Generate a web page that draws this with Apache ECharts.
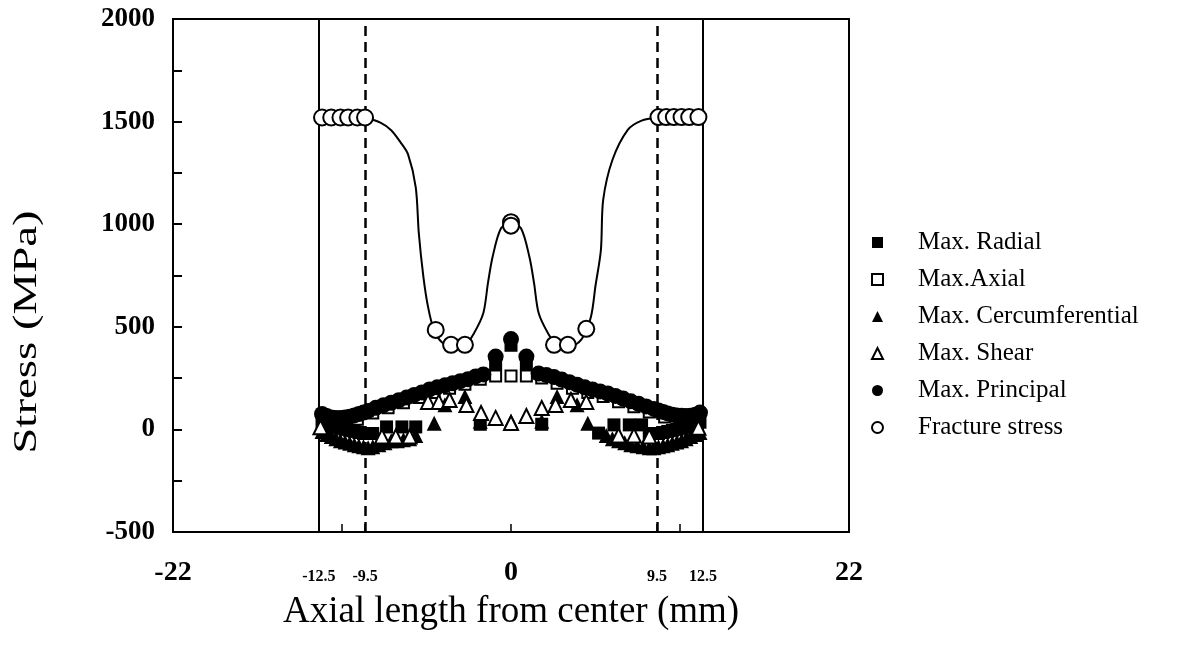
<!DOCTYPE html>
<html>
<head>
<meta charset="UTF-8">
<title>Stress vs axial length</title>
<script src="https://cdn.jsdelivr.net/npm/echarts@6/dist/echarts.min.js"></script>
</head>
<body style="margin:0;background:#fff">
<div id="main" style="width:1177px;height:651px"></div>
<script>
// Max. Principal (filled circles)
var principalX = [-12.3, -12.0, -11.7, -11.4, -11.1, -10.8, -10.5, -10.2, -9.9, -9.6, -9.3, -8.8, -8.3, -7.8, -7.3, -6.8, -6.3, -5.8, -5.3,
                  -4.8, -4.3, -3.8, -3.3, -2.8, -2.3, -1.8, -1.0, 0, 1.0, 1.8, 2.3, 2.8, 3.3, 3.8, 4.3, 4.8, 5.3, 5.8, 6.3, 6.8,
                  7.3, 7.8, 8.3, 8.8, 9.3, 9.6, 9.9, 10.2, 10.5, 10.8, 11.1, 11.4, 11.7, 12.0, 12.3];
var principalY = [75, 65, 58, 55, 55, 58, 62, 68, 75, 82, 90, 105, 118, 130, 142, 155, 168, 180, 195,
                  205, 215, 225, 235, 245, 258, 268, 355, 440, 355, 272, 265, 255, 243, 230, 218, 205, 195, 185, 175, 163,
                  150, 137, 125, 112, 100, 92, 85, 78, 72, 68, 66, 65, 66, 72, 82];

// Max.Axial (open squares)
var axialX = [-12.0, -11.0, -10.0, -9.0, -8.0, -7.0, -6.0, -5.0, -4.0, -3.0, -2.0, -1.0, 0, 1.0, 2.0, 3.0, 4.0, 5.0, 6.0, 7.0, 8.0, 9.0, 10.0, 11.0, 12.0];
var axialY = [45, 38, 50, 80, 105, 130, 155, 180, 200, 220, 245, 260, 260, 260, 250, 225, 200, 180, 160, 135, 110, 85, 60, 45, 50];

// Max. Cercumferential (filled triangles)
var circumX = [-12.3, -12.0, -11.7, -11.4, -11.1, -10.8, -10.5, -10.2, -9.9, -9.6, -9.3, -9.0, -8.6, -8.2, -7.8, -7.4, -7.0, -6.6, -6.2,
               -5.0, -4.3, -3.0, -2.0, 0, 2.0, 3.0, 4.3, 5.0, 6.2, 6.6, 7.0, 7.4, 7.8, 8.2, 8.6, 9.0, 9.3, 9.6, 9.9, 10.2,
               10.5, 10.8, 11.1, 11.4, 11.7, 12.0, 12.3];
var circumY = [-10, -25, -35, -45, -55, -62, -68, -75, -80, -85, -90, -85, -75, -65, -55, -55, -50, -45, -30,
               30, 120, 160, 40, 40, 40, 160, 120, 30, -30, -45, -55, -65, -75, -80, -85, -90, -90, -85, -80, -75,
               -68, -62, -55, -45, -35, -25, -15];

// Max. Radial (filled squares)
var radialX = [-12.3, -12.0, -11.7, -11.4, -11.1, -10.8, -10.5, -10.2, -9.9, -9.6, -9.3, -9.0, -8.1, -7.1, -6.2, -2.0, -1.0, 0, 1.0, 2.0,
               5.7, 6.7, 7.7, 8.5, 9.0, 9.3, 9.6, 9.9, 10.2, 10.5, 10.8, 11.1, 11.4, 11.7, 12.0, 12.3];
var radialY = [35, 25, 15, 10, 5, 0, -5, -10, -15, -20, -20, -20, 12, 12, 12, 25, 320, 410, 320, 25,
               -18, 22, 22, 22, -20, -20, -20, -15, -10, -5, 0, 5, 10, 15, 25, 35];

// Max. Shear (open triangles)
var shearX = [-12.4, -8.4, -7.5, -6.6, -5.4, -4.7, -4.0, -2.9, -1.95, -1.0, 0, 1.0, 2.0, 2.9, 3.9, 4.9, 7.0, 8.0, 9.0, 12.2];
var shearY = [10, -35, -35, -35, 134, 134, 143, 119, 80, 56, 31, 65, 104, 119, 143, 134, -30, -30, -35, 8];

// Fracture stress (open circles)
var fracX = [-12.3, -11.7, -11.1, -10.6, -10.0, -9.5, -4.9, -3.9, -3.0, 0, 0, 2.8, 3.7, 4.9, 9.6, 10.1, 10.6, 11.1, 11.6, 12.2];
var fracY = [1520, 1520, 1520, 1520, 1520, 1520, 485, 412, 412, 1010, 993, 412, 412, 490, 1522, 1522, 1522, 1522, 1522, 1522];

// curve drawn through the fracture stress
var curveX = [-9.5, -8.5, -7.8, -7.2, -6.7, -6.2, -6.0, -5.7, -5.4, -5.0, -4.5, -3.8, -3.0, -2.4, -1.8, -1.5, -1.2, -0.65, 0,
              0.65, 1.2, 1.5, 1.8, 2.4, 3.0, 3.8, 4.6, 5.2, 5.5, 5.85, 6.0, 6.6, 7.6, 8.5, 9.5];
var curveY = [1520, 1495, 1458, 1400, 1340, 1180, 956, 742, 597, 480, 425, 402, 410, 470, 567, 713, 840, 980, 1005,
              980, 840, 713, 567, 470, 410, 402, 440, 548, 700, 873, 1118, 1313, 1460, 1505, 1520];

var boundX = [-12.5, 12.5];
var dashX = [-9.5, 9.5];
var xLabels = [-22, -12.5, -9.5, 0, 9.5, 12.5, 22];
var xTicks = [-12.5, -11, -9.5, 0, 9.5, 11, 12.5];

function pairs(a, b) {
    var out = [];
    for (var i = 0; i < a.length; i++) out.push([a[i], b[i]]);
    return out;
}

var serif = 'Liberation Serif';
var chart = echarts.init(document.getElementById('main'));

chart.setOption({
    animation: false,
    backgroundColor: '#fff',
    textStyle: { fontFamily: serif, color: '#000' },
    grid: {
        left: 173, right: 328, top: 19, bottom: 119,
        show: true, borderColor: '#000', borderWidth: 2, backgroundColor: 'transparent'
    },
    graphic: [{
        type: 'text',
        x: 27, y: 332,
        rotation: Math.PI / 2,
        scaleX: 1.42,
        style: {
            text: 'Stress (MPa)',
            font: '33px "Liberation Serif"',
            fill: '#000',
            textAlign: 'center',
            textVerticalAlign: 'middle'
        }
    }],
    legend: {
        orient: 'vertical',
        left: 866, top: 225,
        itemWidth: 11, itemHeight: 11,
        itemGap: 12,
        textStyle: { fontFamily: serif, fontSize: 25, color: '#000', padding: [0, 0, 0, 30] },
        data: ['Max. Radial', 'Max.Axial', 'Max. Cercumferential', 'Max. Shear', 'Max. Principal', 'Fracture stress']
    },
    xAxis: {
        type: 'value',
        min: -22, max: 22,
        name: 'Axial length from center (mm)',
        nameLocation: 'middle',
        nameGap: 62,
        nameTextStyle: { fontFamily: serif, fontSize: 37, color: '#000' },
        splitLine: { show: false },
        axisLine: { onZero: false, lineStyle: { color: '#000', width: 2 } },
        axisTick: { inside: true, length: 8, customValues: xTicks, lineStyle: { color: '#000', width: 1.5 } },
        axisLabel: {
            customValues: xLabels,
            margin: 27,
            formatter: function (v) {
                if (Math.abs(v) === 22 || v === 0) return '{big|' + v + '}';
                return '{small|' + v + '}';
            },
            rich: {
                big: { fontFamily: serif, fontSize: 28, fontWeight: 'bold', color: '#000' },
                small: { fontFamily: serif, fontSize: 16, fontWeight: 'bold', color: '#000', padding: [10, 0, 0, 0] }
            }
        }
    },
    yAxis: {
        type: 'value',
        min: -500, max: 2000, interval: 250,
        splitLine: { show: false },
        axisLine: { onZero: false, lineStyle: { color: '#000', width: 2 } },
        axisTick: { inside: true, length: 9, lineStyle: { color: '#000', width: 2 } },
        axisLabel: {
            margin: 18,
            fontFamily: serif, fontSize: 27, fontWeight: 'bold', color: '#000',
            formatter: function (v) { return v % 500 === 0 ? String(v) : ''; }
        }
    },
    series: [
        {
            name: 'bounds', type: 'line', data: [], silent: true,
            markLine: {
                symbol: 'none', silent: true, label: { show: false },
                lineStyle: { color: '#000', width: 2, type: 'solid' },
                data: boundX.map(function (v) { return { xAxis: v }; })
            }
        },
        {
            name: 'dashes', type: 'line', data: [], silent: true,
            markLine: {
                symbol: 'none', silent: true, label: { show: false },
                lineStyle: { color: '#000', width: 2.5, type: [10, 6] },
                data: dashX.map(function (v) { return { xAxis: v }; })
            }
        },
        {
            name: 'curve', type: 'line', smooth: 0.3, showSymbol: false, z: 1,
            lineStyle: { color: '#000', width: 2 },
            data: pairs(curveX, curveY)
        },
        {
            name: 'Max.Axial', type: 'scatter', symbol: 'rect', symbolSize: 11, z: 2,
            itemStyle: { color: '#fff', borderColor: '#000', borderWidth: 2, opacity: 1 },
            data: pairs(axialX, axialY)
        },
        {
            name: 'Max. Radial', type: 'scatter', symbol: 'rect', symbolSize: 13, z: 3,
            itemStyle: { color: '#000', opacity: 1 },
            data: pairs(radialX, radialY)
        },
        {
            name: 'Max. Principal', type: 'scatter', symbol: 'circle', symbolSize: 16, z: 4,
            itemStyle: { color: '#000', opacity: 1 },
            data: pairs(principalX, principalY)
        },
        {
            name: 'Max. Cercumferential', type: 'scatter', symbol: 'triangle', symbolSize: 15, z: 5,
            itemStyle: { color: '#000', opacity: 1 },
            data: pairs(circumX, circumY)
        },
        {
            name: 'Max. Shear', type: 'scatter', symbol: 'triangle', symbolSize: 14, z: 6,
            itemStyle: { color: '#fff', borderColor: '#000', borderWidth: 2, opacity: 1 },
            data: pairs(shearX, shearY)
        },
        {
            name: 'Fracture stress', type: 'scatter', symbol: 'circle', symbolSize: 16, z: 7,
            itemStyle: { color: '#fff', borderColor: '#000', borderWidth: 2, opacity: 1 },
            data: pairs(fracX, fracY)
        }
    ]
});
</script>
</body>
</html>
